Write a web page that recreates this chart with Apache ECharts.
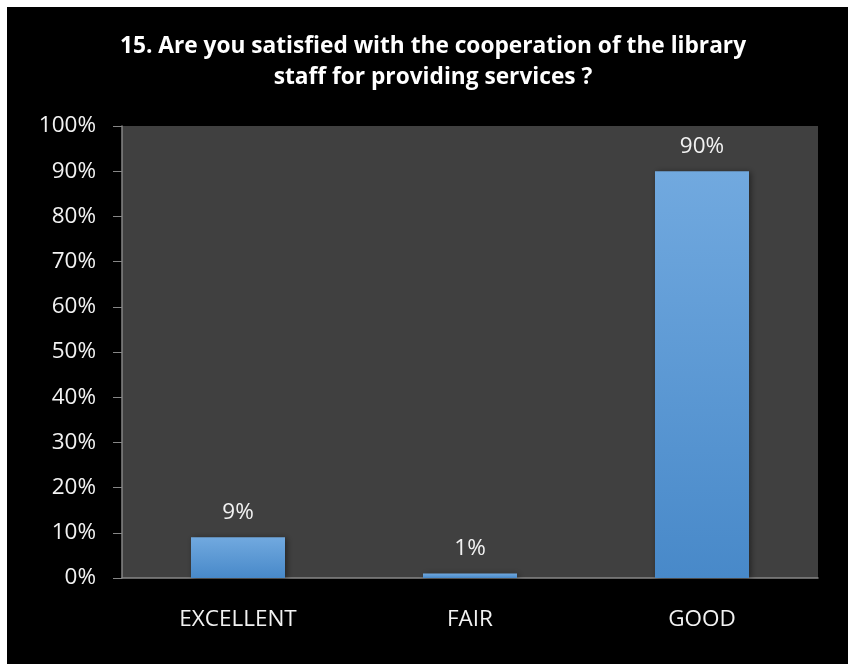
<!DOCTYPE html>
<html>
<head>
<meta charset="utf-8">
<script src="https://cdn.jsdelivr.net/npm/echarts@6/dist/echarts.min.js"></script>
<style>
html,body{margin:0;padding:0;background:#fff;}
#chart{width:857px;height:664px;}
</style>
</head>
<body>
<div id="chart"></div>
<script>
const titleText = "15. Are you satisfied with the cooperation of the library\nstaff for providing services ?";
const categories = ["EXCELLENT", "FAIR", "GOOD"];
const values = [9, 1, 90];
const yTicks = { min: 0, max: 100, interval: 10 };

const chart = echarts.init(document.getElementById('chart'), null, { renderer: 'canvas' });
const font = '"Open Sans", sans-serif';
chart.setOption({
  backgroundColor: '#ffffff',
  animation: false,
  graphic: [{
    type: 'rect', z: -10,
    shape: { x: 7, y: 7, width: 841, height: 660 },
    style: { fill: '#000000' }
  }],
  title: {
    text: titleText,
    left: 428, top: 26, textAlign: 'center',
    textStyle: { color: '#ffffff', fontFamily: font, fontWeight: 'bold', fontSize: 22.7, lineHeight: 31 }
  },
  grid: { left: 122, right: 39, top: 126, bottom: 86, show: true, backgroundColor: '#404040', borderWidth: 0 },
  xAxis: {
    type: 'category', data: categories,
    axisLine: { lineStyle: { color: '#868686', width: 1.5 } },
    axisTick: { show: false },
    axisLabel: { color: '#f2f2f2', fontFamily: font, fontSize: 22.5, margin: 30 }
  },
  yAxis: {
    type: 'value', min: yTicks.min, max: yTicks.max, interval: yTicks.interval,
    axisLine: { show: true, lineStyle: { color: '#868686', width: 1.5 } },
    axisTick: { show: true, length: 9, lineStyle: { color: '#868686' } },
    splitLine: { show: false },
    axisLabel: { color: '#f2f2f2', fontFamily: font, fontSize: 22.5, margin: 26, formatter: '{value}%' }
  },
  series: [{
    type: 'bar', data: values, barWidth: 94,
    itemStyle: {
      color: new echarts.graphic.LinearGradient(0, 0, 0, 1, [
        { offset: 0, color: '#71a9df' },
        { offset: 1, color: '#4889c9' }
      ]),
      shadowColor: 'rgba(0,0,0,0.45)', shadowBlur: 6, shadowOffsetX: 2, shadowOffsetY: 1
    },
    label: { show: true, position: 'top', distance: 13, color: '#f2f2f2', fontFamily: font, fontSize: 22.5, formatter: '{c}%' }
  }]
});
</script>
</body>
</html>
